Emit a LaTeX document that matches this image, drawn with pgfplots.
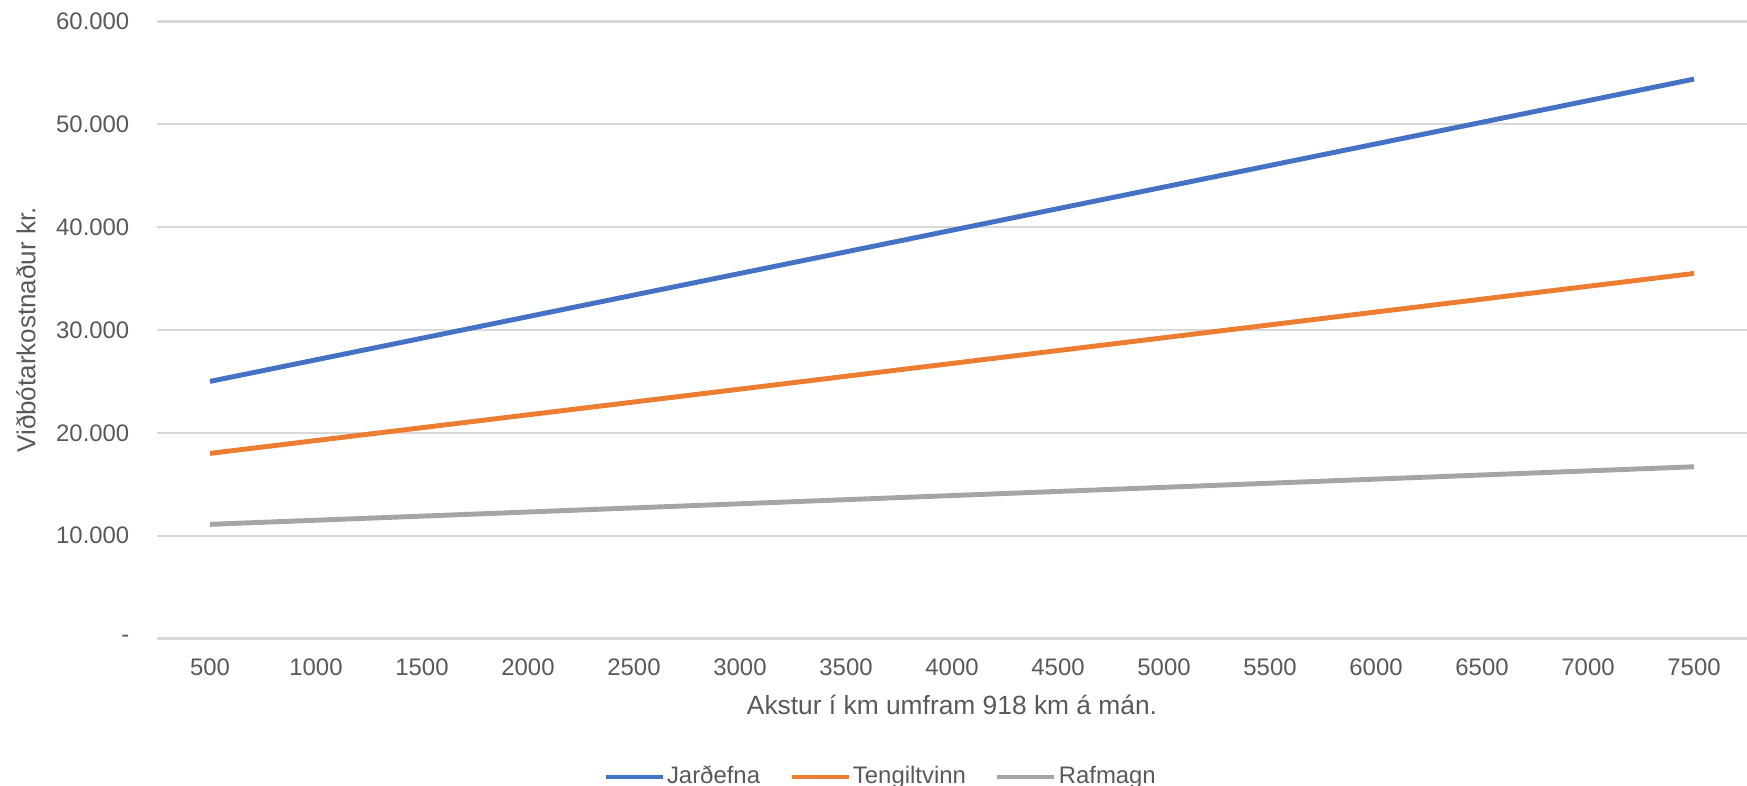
\documentclass[border=0pt]{standalone}
\usepackage{pgfplots}
\pgfplotsset{compat=1.18}
\usepackage{fontspec}
\setmainfont{Liberation Sans}

\definecolor{jard}{HTML}{4472C4}
\definecolor{teng}{HTML}{ED7D31}
\definecolor{rafm}{HTML}{A5A5A5}
\definecolor{gridc}{HTML}{D9D9D9}
\definecolor{txt}{HTML}{595959}

\begin{document}
\begin{tikzpicture}
\useasboundingbox (-1.57,-1.475) rectangle (15.9,6.385);
\begin{axis}[
    at={(0,0)}, anchor=south west,
    scale only axis, width=15.9cm, height=6.17cm,
    xmin=-0.5, xmax=14.5, ymin=0, ymax=60000,
    scaled y ticks=false,
    xtick={0,...,14},
    xticklabels={500,1000,1500,2000,2500,3000,3500,4000,4500,5000,5500,6000,6500,7000,7500},
    ytick={0,10000,20000,30000,40000,50000,60000},
    yticklabels={-,10.000,20.000,30.000,40.000,50.000,60.000},
    axis line style={draw=none},
    major tick length=0pt,
    ymajorgrids, grid style={gridc, line width=0.6pt},
    ticklabel style={font=\fontsize{6.8}{8}\selectfont, text=txt, inner sep=0pt},
    xticklabel style={anchor=center, yshift=-0.29cm},
    yticklabel style={anchor=east, xshift=-0.27cm},
    xlabel={Akstur í km umfram 918 km á mán.},
    xlabel style={at={(axis description cs:0.5,-0.108)}, anchor=center,
        font=\fontsize{7.5}{9}\selectfont, text=txt, inner sep=0pt},
    ylabel={Viðbótarkostnaður kr.},
    ylabel style={at={(axis description cs:-0.0824,0.5)}, anchor=center, rotate=0,
        font=\fontsize{7.4}{9}\selectfont, text=txt, inner sep=0pt},
    legend columns=3,
    legend style={at={(axis description cs:0.455,-0.2245)}, anchor=center, draw=none,
        font=\fontsize{6.8}{8}\selectfont, text=txt,
        nodes={inner sep=0.02cm},
        /tikz/every even column/.append style={column sep=0.27cm}},
    legend image code/.code={\draw[#1, line width=1.4pt] (0cm,0cm) -- (0.57cm,0cm);},
    every axis plot/.append style={line width=1.4pt, mark=none},
]
\addplot[jard] coordinates {
  (0,25000) (1,27100) (2,29200) (3,31300) (4,33400) (5,35500) (6,37600) (7,39700)
  (8,41800) (9,43900) (10,46000) (11,48100) (12,50200) (13,52300) (14,54400)};
\addlegendentry{Jarðefna}
\addplot[teng] coordinates {
  (0,18000) (1,19250) (2,20500) (3,21750) (4,23000) (5,24250) (6,25500) (7,26750)
  (8,28000) (9,29250) (10,30500) (11,31750) (12,33000) (13,34250) (14,35500)};
\addlegendentry{Tengiltvinn}
\addplot[rafm] coordinates {
  (0,11100) (1,11500) (2,11900) (3,12300) (4,12700) (5,13100) (6,13500) (7,13900)
  (8,14300) (9,14700) (10,15100) (11,15500) (12,15900) (13,16300) (14,16700)};
\addlegendentry{Rafmagn}
\end{axis}
\end{tikzpicture}
\end{document}
